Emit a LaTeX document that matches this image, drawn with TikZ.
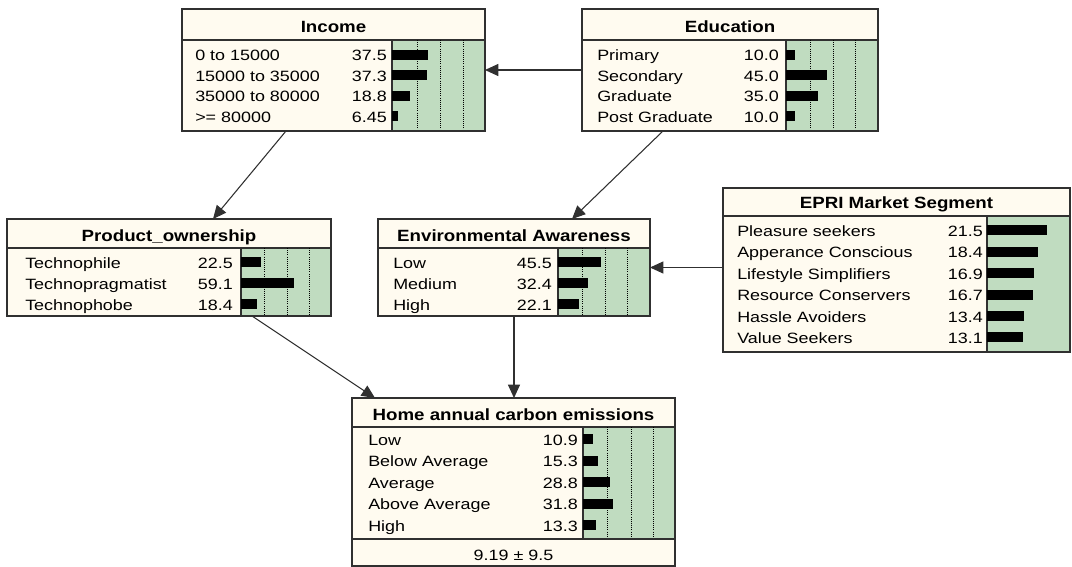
\documentclass[tikz,border=0pt]{standalone}
\usepackage{fontspec}
\setmainfont{Liberation Sans}
\newfontfamily\bodyfont{Liberation Sans}[FakeStretch=1.2]
\newfontfamily\ttlfont{Liberation Sans}[FakeStretch=1.15]
\usetikzlibrary{calc,arrows.meta}
\definecolor{bncream}{HTML}{FFFBF0}
\definecolor{bngreen}{HTML}{C0DCC0}
\definecolor{bnedge}{HTML}{303030}
\tikzset{
  bnbox/.style={draw=bnedge, line width=1pt, fill=bncream, rectangle, inner sep=0pt, outer sep=0pt},
  bnsep/.style={draw=bnedge, line width=1pt},
  bngrid/.style={draw=black, line width=0.6pt, densely dotted},
  bntitle/.style={font=\ttlfont\bfseries\fontsize{12.2}{14}\selectfont, inner sep=0pt, anchor=base},
  bnlabel/.style={font=\bodyfont\fontsize{11.2}{13}\selectfont, inner sep=0pt, anchor=base west},
  bnvalue/.style={font=\bodyfont\fontsize{11.2}{13}\selectfont, inner sep=0pt, anchor=base east},
  bnmean/.style={font=\bodyfont\fontsize{11.2}{13}\selectfont, inner sep=0pt, anchor=base},
  bnbar/.style={fill=black},
  link/.style={draw=bnedge, line width=0.8pt, -{Triangle[length=10pt,width=9pt]}},
}
% #1 name #2 L #3 T #4 R #5 B #6 sepY #7 barX #8 green bottom #9 title
\newcommand\bnframe[9]{%
  \node[bnbox, minimum width={(#4-#2)*0.75pt}, minimum height={(#5-#3)*0.75pt}] (#1) at ({(#2+#4)/2},{(#3+#5)/2}) {};
  \fill[bngreen] (#7,#6) rectangle (#4,#8);
  \draw[bnsep] (#2,#6) -- (#4,#6);
  \draw[bnsep] (#7,#6) -- (#7,#8);
  \node[bntitle] (#1-t) at ({(#2+#4)/2},{#6-7}) {#9};
}
\newcommand\bngridlines[3]{%
  \foreach \gx in {#3} {\draw[bngrid] (\gx,#1) -- (\gx,#2);}
}
% #1 name #2 labelX #3 valueX #4 barX #5 k #6 baseline #7 label #8 value
\newcommand\bnrow[8]{%
  \node[bnlabel] (#1-l) at (#2,#6) {#7};
  \node[bnvalue] (#1-v) at (#3,#6) {#8};
  \fill[bnbar] (#4,{#6-11}) rectangle ({#4+#8*#5},{#6-1});
}
\begin{document}
\begin{tikzpicture}[x=0.75pt,y=-0.75pt]
\useasboundingbox (0,0) rectangle (1072,567);

% Income
\bnframe{inc}{182}{9}{485}{131}{40}{392}{131}{Income}
\bngridlines{40}{131}{417,440,463}
\bnrow{inc1}{195}{387}{392}{0.95}{61}{0 to 15000}{37.5}
\bnrow{inc2}{195}{387}{392}{0.95}{81.5}{15000 to 35000}{37.3}
\bnrow{inc3}{195}{387}{392}{0.95}{102}{35000 to 80000}{18.8}
\bnrow{inc4}{195}{387}{392}{0.95}{122.5}{>= 80000}{6.45}
\draw[bnsep] (inc.south west) rectangle (inc.north east);

% Education
\bnframe{edu}{582}{9}{878}{131}{40}{786}{131}{Education}
\bngridlines{40}{131}{810,833,855}
\bnrow{edu1}{597}{779}{786}{0.9}{61}{Primary}{10.0}
\bnrow{edu2}{597}{779}{786}{0.9}{81.5}{Secondary}{45.0}
\bnrow{edu3}{597}{779}{786}{0.9}{102}{Graduate}{35.0}
\bnrow{edu4}{597}{779}{786}{0.9}{122.5}{Post Graduate}{10.0}
\draw[bnsep] (edu.south west) rectangle (edu.north east);

% Product ownership
\bnframe{prod}{7}{219}{331}{316}{248}{241}{316}{Product\_ownership}
\bngridlines{248}{316}{264,287,309}
\bnrow{prod1}{25}{233}{241}{0.89}{268}{Technophile}{22.5}
\bnrow{prod2}{25}{233}{241}{0.89}{289}{Technopragmatist}{59.1}
\bnrow{prod3}{25}{233}{241}{0.89}{310}{Technophobe}{18.4}
\draw[bnsep] (prod.south west) rectangle (prod.north east);

% Environmental Awareness
\bnframe{env}{378}{219}{650}{316}{248}{558}{316}{Environmental Awareness}
\bngridlines{248}{316}{582,605,627}
\bnrow{env1}{393}{552}{558}{0.94}{268}{Low}{45.5}
\bnrow{env2}{393}{552}{558}{0.94}{289}{Medium}{32.4}
\bnrow{env3}{393}{552}{558}{0.94}{310}{High}{22.1}
\draw[bnsep] (env.south west) rectangle (env.north east);

% EPRI Market Segment
\bnframe{epri}{723}{188}{1070}{352}{216}{987}{352}{EPRI Market Segment}
\bnrow{epri1}{737}{983}{987}{2.77}{236}{Pleasure seekers}{21.5}
\bnrow{epri2}{737}{983}{987}{2.77}{257.5}{Apperance Conscious}{18.4}
\bnrow{epri3}{737}{983}{987}{2.77}{279}{Lifestyle Simplifiers}{16.9}
\bnrow{epri4}{737}{983}{987}{2.77}{300.5}{Resource Conservers}{16.7}
\bnrow{epri5}{737}{983}{987}{2.77}{322}{Hassle Avoiders}{13.4}
\bnrow{epri6}{737}{983}{987}{2.77}{343}{Value Seekers}{13.1}
\draw[bnsep] (epri.south west) rectangle (epri.north east);

% Home annual carbon emissions
\bnframe{home}{352}{398}{675}{566}{427}{583}{539}{Home annual carbon emissions}
\bngridlines{427}{539}{607,631,653}
\bnrow{home1}{368}{578}{583}{0.95}{445}{Low}{10.9}
\bnrow{home2}{368}{578}{583}{0.95}{466.5}{Below Average}{15.3}
\bnrow{home3}{368}{578}{583}{0.95}{488}{Average}{28.8}
\bnrow{home4}{368}{578}{583}{0.95}{509.5}{Above Average}{31.8}
\bnrow{home5}{368}{578}{583}{0.95}{531}{High}{13.3}
\draw[bnsep] (352,539) -- (675,539);
\node[bnmean] (home-m) at (513.5,560) {9.19 ± 9.5};
\draw[bnsep] (home.south west) rectangle (home.north east);

% Links
\draw[link] (edu.west) -- (inc.east);
\draw[link] (epri.west |- env.east) -- (env.east);
\draw[link] (env.south) -- (env.south |- home.north);
\draw[link] ($(inc.south west)+(104,0)$) -- ($(prod.north west)+(206,0)$);
\draw[link] ($(edu.south west)+(81,0)$) -- ($(env.north west)+(194,0)$);
\draw[link] ($(prod.south west)+(245,0)$) -- ($(home.north west)+(23,0)$);
\end{tikzpicture}
\end{document}
